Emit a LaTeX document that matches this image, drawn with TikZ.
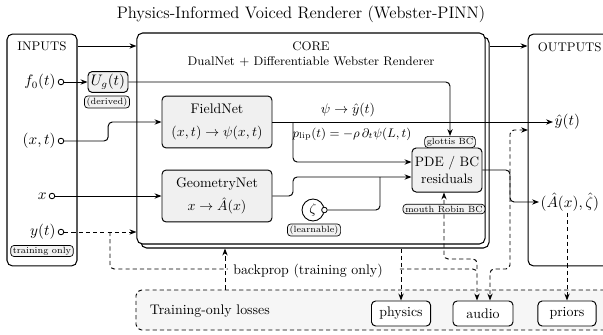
\documentclass[tikz,border=0pt]{standalone}
\usetikzlibrary{arrows.meta,calc}
\begin{document}
\begin{tikzpicture}[x=0.72pt,y=-0.72pt,
  frame/.style={draw, rounded corners=4pt, line width=0.75pt, inner sep=0pt},
  box/.style={draw, rounded corners=3pt, fill=gray!12, line width=0.7pt, align=center},
  tag/.style={draw, rounded corners=2.5pt, fill=gray!10, font=\fontsize{6.5}{7.5}\selectfont, inner xsep=1.6pt, inner ysep=1.1pt, line width=0.5pt},
  port/.style={circle, draw, fill=white, inner sep=0pt, minimum size=4pt, line width=0.6pt},
  lbl/.style={font=\fontsize{10.5}{12}\selectfont, inner sep=1.5pt},
  conn/.style={line width=0.7pt, rounded corners=3pt},
  arr/.style={conn, -{Stealth[length=5pt,width=3.8pt]}},
  dconn/.style={conn, dash pattern=on 3pt off 2.2pt},
  darr/.style={arr, dash pattern=on 3pt off 2.2pt},
  biarr/.style={dconn, {Stealth[length=5pt,width=3.8pt]}-{Stealth[length=5pt,width=3.8pt]}}]
\useasboundingbox (0,0) rectangle (603,335);
\clip (0,0) rectangle (603,335);

\node[font=\large] (title) at (301,14) {Physics-Informed Voiced Renderer (Webster-PINN)};

% frames
\node[frame, minimum width=50.4pt, minimum height=167pt] (inputs) at (42,150) {};
\node[frame, minimum width=62.6pt, minimum height=167pt] (outputs) at (571.5,150) {};
\node[frame, line width=0.7pt, dash pattern=on 3pt off 2.2pt, fill=gray!7, minimum width=341.3pt, minimum height=28.8pt] (losses) at (373,310) {};
\node[frame, fill=white, minimum width=250.6pt, minimum height=151.9pt] (coreback) at (315,142.5) {};
\node[frame, fill=white, minimum width=250.6pt, minimum height=151.9pt] (core) at (311,138.5) {};

% frame labels
\node[font=\small] (inlabel) at (42,46) {INPUTS};
\node[font=\small, anchor=west] (outlabel) at (533,47) {OUTPUTS};
\node[font=\small] (coretitle) at (311,46) {CORE};
\node[font=\small] (coresub) at (311,62) {DualNet + Differentiable Webster Renderer};

% inputs
\node[port] (pf) at (61,82) {};
\node[lbl, anchor=east] (lf) at (pf.west) {$f_0(t)$};
\node[port] (pxt) at (61,141) {};
\node[lbl, anchor=east] (lxt) at (pxt.west) {$(x,t)$};
\node[port] (px) at (52,196) {};
\node[lbl, anchor=east] (lx) at (px.west) {$x$};
\node[port] (py) at (61,232) {};
\node[lbl, anchor=east] (ly) at (py.west) {$y(t)$};
\node[tag] (trainonly) at (42,251) {training only};

% Ug
\node[box, minimum width=28.8pt, minimum height=15pt, inner sep=1pt, font=\fontsize{10.5}{12}\selectfont] (ug) at (108,82) {$U_g(t)$};
\node[tag] (derived) at (107,102) {(derived)};

% nets
\node[box, minimum width=79.2pt, minimum height=37.4pt, font=\fontsize{10}{16.5}\selectfont] (field) at (217,122) {FieldNet\\$(x,t)\to\psi(x,t)$};
\node[box, minimum width=79.2pt, minimum height=37.4pt, font=\fontsize{10}{17}\selectfont] (geom) at (217,196) {GeometryNet\\$x\to\hat{A}(x)$};
\node[box, minimum width=50.4pt, minimum height=31.7pt, inner sep=1pt, font=\fontsize{9.8}{12.3}\selectfont] (pde) at (447,170) {PDE / BC\\residuals};
\node[tag] (glottis) at (450,142) {glottis BC};

\node[circle, draw, fill=white, line width=0.65pt, minimum size=15.8pt, inner sep=0pt] (zeta) at (313,210) {$\zeta$};
\node[port] (zport) at (zeta.east) {};
\node[tag] (learn) at (314,230) {(learnable)};

\node (psilab) at (348,110) {$\psi\to\hat{y}(t)$};
\node[font=\small] (plip) at (352,134) {$p_{\mathrm{lip}}(t)=-\rho\,\partial_t\psi(L,t)$};

% outputs
\node[anchor=west, inner sep=1pt, font=\fontsize{10.5}{12}\selectfont] (yhat) at (553,122) {$\hat{y}(t)$};
\node[anchor=west, inner sep=1pt, font=\fontsize{10.5}{12}\selectfont] (ahat) at (539,202) {$(\hat{A}(x),\hat{\zeta})$};

% losses
\node[anchor=west] (losslab) at (145,311) {Training-only losses};
\node[box, fill=white, minimum width=42.5pt, minimum height=18pt] (physics) at (401,313.5) {physics};
\node[box, fill=white, minimum width=43.2pt, minimum height=18pt] (audio) at (483,313.5) {audio};
\node[box, fill=white, minimum width=41.8pt, minimum height=18pt] (priors) at (567,313.5) {priors};

% solid connectors
\draw[arr] (inlabel -| inputs.east) -- (inlabel -| core.west);
\draw[arr] (coretitle -| coreback.east) -- (coretitle -| outputs.west);
\draw[arr] (pf) -- (ug);
\draw[arr] (ug.east) -| (glottis.north);
\draw[arr] (pxt.east) -- ++(44,0) |- (field.west);
\draw[arr] (field.east) -- (yhat.west);
\coordinate (j1) at (293,122);
\draw[arr] (j1) |- ($(pde.west)+(0,-8)$);
\draw[arr] (px) -- (geom.west);
\draw[arr] (geom.east) -- (293,196) |- ($(pde.west)+(0,7)$);
\coordinate (zj) at (380,177);
\draw[conn] (zport.east) -| (zj);
\draw[arr] (pde.east) -- (510,170) |- (ahat.west);

% dashed connectors
\draw[darr] (py) -- (py -| core.west);
\coordinate (yb) at (110,232);
\coordinate (aj) at (477,269);
\draw[darr] (yb) |- (aj) -- ($(audio.north)+(-6,0)$);
\draw[darr] (aj) |- (444,259) -- ($(pde.south)+(-3,0)$);
\node[tag] (mouth) at (444,209) {mouth Robin BC};
\coordinate (oy) at (528,130);
\draw[biarr] (oy) -| (510,269) -| ($(audio.north)+(7,0)$);
\draw[darr] (physics.north |- coreback.south) -- (physics.north);
\coordinate (bp) at (225,0);
\draw[darr] (bp |- losses.north) -- (bp |- coreback.south);
\draw[darr] (ahat.south -| priors.north) -- (priors.north);
\node[fill=white, anchor=west, inner xsep=3.6pt, inner ysep=2pt, text width=115pt, align=left] (bplab) at (228,271) {backprop (training only)};
\end{tikzpicture}
\end{document}
